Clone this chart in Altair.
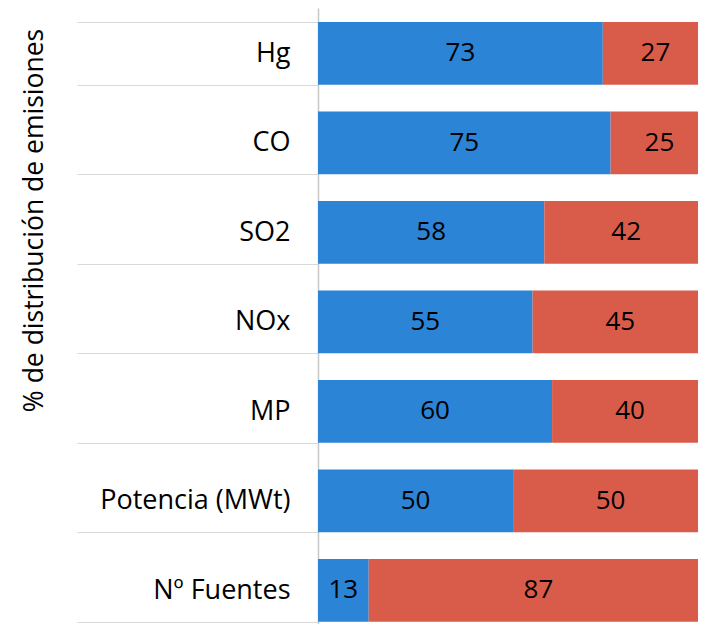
import altair as alt
import pandas as pd

categorias = ["Hg", "CO", "SO2", "NOx", "MP", "Potencia (MWt)", "Nº Fuentes"]
serie_a = [73, 75, 58, 55, 60, 50, 13]
serie_b = [27, 25, 42, 45, 40, 50, 87]
series = ["Grupo 1", "Grupo 2"]
colores = ["#2b84d6", "#d95c4b"]

rows = []
for c, a, b in zip(categorias, serie_a, serie_b):
    rows.append({"cat": c, "serie": series[0], "orden": 0, "valor": a, "ini": 0, "fin": a})
    rows.append({"cat": c, "serie": series[1], "orden": 1, "valor": b, "ini": a, "fin": a + b})
df = pd.DataFrame(rows)
df["mid"] = (df["ini"] + df["fin"]) / 2

FONT = "Open Sans"

yenc = alt.Y(
    "cat:N",
    sort=categorias,
    scale=alt.Scale(paddingInner=0.3, paddingOuter=0.0913, align=0.86),
    axis=alt.Axis(
        title="% de distribución de emisiones",
        titleFont=FONT,
        titleFontSize=26.5,
        titleFontWeight="normal",
        titleColor="black",
        titleAngle=-90,
        titleAlign="center",
        titleBaseline="alphabetic",
        titleX=-276,
        titleY=212,
        labelFont=FONT,
        labelFontSize=27,
        labelColor="black",
        labelLimit=320,
        tickBand="extent",
        tickSize=241,
        tickColor="#d9d9d9",
        tickWidth=1,
        labelPadding=-213,
        domainColor="#c8c8c8",
        domainWidth=1.5,
        grid=False,
    ),
)

xscale = alt.Scale(domain=[0, 97.4], nice=False, zero=True)

bars = alt.Chart(df).mark_bar(clip=True).encode(
    y=yenc,
    x=alt.X("ini:Q", scale=xscale, axis=None),
    x2="fin:Q",
    color=alt.Color("serie:N", scale=alt.Scale(domain=series, range=colores), legend=None),
)

labels = alt.Chart(df).mark_text(font=FONT, fontSize=26, color="black").encode(
    y=alt.Y("cat:N", sort=categorias),
    x=alt.X("mid:Q", scale=xscale, axis=None),
    text="valor:Q",
)

chart = (
    alt.layer(bars, labels)
    .properties(
        width=380,
        height=616,
        autosize="none",
        padding={"left": 310, "top": 0, "right": 0, "bottom": 0},
        background="white",
    )
    .configure_view(stroke=None)
)

chart.save("out.html", embed_options={"renderer": "svg", "actions": False})
